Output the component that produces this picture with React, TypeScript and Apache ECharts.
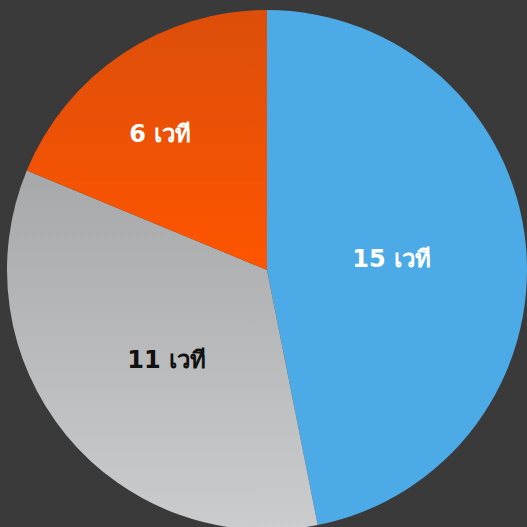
import React, { useEffect, useRef } from "react";
import * as echarts from "echarts";

const categories = ["15 เวที", "11 เวที", "6 เวที"];
const values = [15, 11, 6];
const topColors = ["#4caae6", "#a7a8a9", "#dc4e0a"];
const bottomColors = ["#4caae6", "#cbcccd", "#ff5500"];
const labelColors = ["#ffffff", "#111111", "#ffffff"];

const CX = 267;
const CY = 270;
const R = 260;
const LABEL_NUDGE_X = [8, 9, -16];

export default function App() {
  const ref = useRef<HTMLDivElement>(null);
  useEffect(() => {
    const chart = echarts.init(ref.current!, null, { renderer: "svg" });
    const total = values.reduce((a, b) => a + b, 0);
    const centroid = (i: number) => {
      let before = 0;
      for (let k = 0; k < i; k++) before += values[k];
      const start = (before / total) * 2 * Math.PI;
      const span = (values[i] / total) * 2 * Math.PI;
      const half = span / 2;
      const mid = start + half;
      const d = (2 * R * Math.sin(half)) / (3 * half);
      return { x: CX + d * Math.sin(mid), y: CY - d * Math.cos(mid) };
    };
    chart.setOption({
      animation: false,
      backgroundColor: "#3a3a3a",
      series: [
        {
          type: "pie",
          center: [CX, CY],
          radius: R,
          startAngle: 90,
          clockwise: true,
          label: {
            show: true,
            position: "inside",
            formatter: "{b}",
            fontFamily: "'DejaVu Sans', 'Noto Sans', sans-serif",
            fontWeight: "bold",
            fontSize: 24,
          },
          labelLine: { show: false },
          labelLayout: (p: any) => {
            const c = centroid(p.dataIndex);
            return { x: c.x + LABEL_NUDGE_X[p.dataIndex], y: c.y };
          },
          emphasis: { disabled: true },
          data: categories.map((name, i) => ({
            name,
            value: values[i],
            itemStyle: {
              color: new echarts.graphic.LinearGradient(0, 0, 0, 1, [
                { offset: 0, color: topColors[i] },
                { offset: 1, color: bottomColors[i] },
              ]),
              borderWidth: 0,
            },
            label: { color: labelColors[i] },
          })),
        },
      ],
    });
    return () => chart.dispose();
  }, []);
  return (
    <div
      ref={ref}
      style={{ position: "absolute", left: 0, top: 0, width: 527, height: 527 }}
    />
  );
}
